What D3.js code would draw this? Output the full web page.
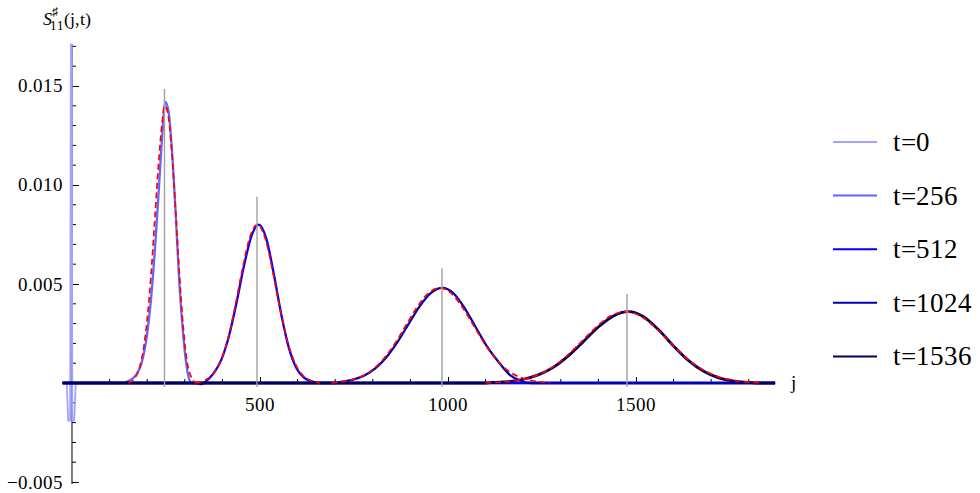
<!DOCTYPE html>
<html>
<head>
<meta charset="utf-8">
<script src="https://cdn.jsdelivr.net/npm/d3@7/dist/d3.min.js"></script>
<style>
  @font-face { font-family: "PlotSerif"; src: local("Liberation Serif"), local("LiberationSerif"), local("Times New Roman"); }
  @font-face { font-family: "PlotSerif"; font-style: italic; src: local("Liberation Serif Italic"), local("LiberationSerif-Italic"); }
</style>
</head>
<body style="margin:0">
<div id="chart"></div>
<script>
// chart size
const width = 980,
      height = 493;

const fontName = "PlotSerif, Liberation Serif, Times New Roman, serif";

// series labels and colours (light -> dark blue)
const seriesLabels = ["t=0", "t=256", "t=512", "t=1024", "t=1536"];
const seriesColors = ["#a3a3ff", "#6464ff", "#0000ff", "#0000b0", "#00005c"];

// measured S(j,t) for each t, [j, value]; the t=0 spike runs off the top of the plot
const s0 = [[-25, 0], [-14, 0], [-10, -0.0019], [-5, -0.0019], [-3, 0.0171], [-1, 0.0171], [1, -0.0019], [6, -0.0019], [10, 0], [1870, 0]];
const s256 = [[-25, 0], [130, 0], [150, 0.0001], [170, 0.0004], [185, 0.0010], [200, 0.0025], [210, 0.0042],
              [220, 0.0066], [230, 0.0095], [240, 0.0125], [248, 0.0142], [256, 0.0138], [265, 0.0120],
              [275, 0.0088], [285, 0.0052], [295, 0.0026], [303, 0.0011], [310, 0.0003], [318, 0], [1870, 0]];
const s512 = [[-25, 0], [330, 0], [345, -0.00006], [357, 0.0001], [377, 0.0005], [397, 0.00117], [417, 0.00234],
              [437, 0.0040], [457, 0.00588], [477, 0.00741], [497, 0.0080], [517, 0.00728], [537, 0.00548],
              [557, 0.00342], [577, 0.00176], [597, 0.00075], [617, 0.00027], [637, 0.00008], [660, 0], [1870, 0]];
const s1024 = [[-25, 0], [700, 0], [715, 0.00006], [745, 0.00016], [775, 0.00035], [805, 0.00071], [835, 0.00127],
               [865, 0.00205], [895, 0.00297], [925, 0.00388], [955, 0.00455], [985, 0.0048], [1015, 0.00452],
               [1045, 0.00376], [1075, 0.00278], [1105, 0.00181], [1135, 0.00105], [1165, 0.0004], [1195, 0.0001],
               [1220, 0], [1870, 0]];
const s1536 = [[-25, 0], [1100, 0], [1120, 0.00003], [1160, 0.000075], [1200, 0.00019], [1240, 0.00041],
               [1280, 0.00079], [1320, 0.00137], [1360, 0.00209], [1400, 0.00283], [1440, 0.00339], [1480, 0.0036],
               [1520, 0.00335], [1560, 0.00269], [1600, 0.00187], [1640, 0.00113], [1680, 0.00059], [1720, 0.00026],
               [1760, 0.0001], [1800, 0.00003], [1820, 0], [1870, 0]];

// gaussian fits (red dashed)
const fit256 = [[150, 0], [165, 0.0002], [180, 0.0008], [190, 0.0017], [200, 0.0032], [210, 0.0054], [220, 0.0082],
                [230, 0.0110], [240, 0.0132], [246, 0.0140], [254, 0.0137], [265, 0.0118], [275, 0.0089],
                [285, 0.0057], [295, 0.0030], [305, 0.0012], [315, 0.0004], [330, 0]];
const fit512 = [[330, 0], [353, 0.00014], [373, 0.0004], [393, 0.001], [413, 0.00211], [433, 0.00378], [453, 0.00573],
                [473, 0.00736], [493, 0.0080], [513, 0.00736], [533, 0.00573], [553, 0.00378], [573, 0.00211],
                [593, 0.001], [613, 0.0004], [633, 0.00014], [660, 0]];
const fit1024 = [[690, 0], [708, 0.00005], [738, 0.00014], [768, 0.00032], [798, 0.00065], [828, 0.0012],
                 [858, 0.00197], [888, 0.00291], [918, 0.00384], [948, 0.00454], [978, 0.0048], [1008, 0.00454],
                 [1038, 0.00384], [1068, 0.00291], [1098, 0.00197], [1128, 0.0012], [1158, 0.00065], [1188, 0.00032],
                 [1218, 0.00014], [1248, 0.00005], [1270, 0]];
const fit1536 = [[1100, 0], [1112, 0.00002], [1152, 0.00006], [1192, 0.00016], [1232, 0.00036], [1272, 0.00073],
                 [1312, 0.0013], [1352, 0.00203], [1392, 0.00279], [1432, 0.00338], [1472, 0.0036], [1512, 0.00338],
                 [1552, 0.00279], [1592, 0.00203], [1632, 0.0013], [1672, 0.00073], [1712, 0.00036], [1752, 0.00016],
                 [1792, 0.00006], [1832, 0.00002]];

// grey markers at the front positions
const markJ = [246, 492, 984, 1476];
const markTop = [0.01485, 0.0094, 0.0058, 0.0045];

// ticks
const xMajor = [500, 1000, 1500];
const xMinor = [100, 200, 300, 400, 600, 700, 800, 900, 1100, 1200, 1300, 1400, 1600, 1700, 1800];
const yMajor = [-0.005, 0.005, 0.010, 0.015];
const yTickLabels = ["\u22120.005", "0.005", "0.010", "0.015"];
const yMinor = [-0.004, -0.003, -0.002, -0.001, 0.001, 0.002, 0.003, 0.004, 0.006, 0.007, 0.008, 0.009,
                0.011, 0.012, 0.013, 0.014, 0.016, 0.017];

const series = [s0, s256, s512, s1024, s1536];
const fits = [fit256, fit512, fit1024, fit1536];

const svg = d3.select("#chart")
  .append("svg")
    .attr("width", width)
    .attr("height", height)
    .attr("font-family", fontName);

// scales
const xScale = d3.scaleLinear()
  .domain([-25, 1870])
  .range([62.6, 775.1]);

const yScale = d3.scaleLinear()
  .domain([-0.0051, 0.0171])
  .range([484, 44.4]);

const x0 = xScale(0), y0 = yScale(0);

// y axis (ticks only, labels added below)
const yAxis = svg.append("g")
  .attr("transform", "translate(" + x0 + ",0)")
  .call(d3.axisRight(yScale).tickValues(yMajor).tickSize(7).tickFormat(""));
yAxis.select(".domain").attr("d", "M0," + yScale(-0.0051) + "V" + yScale(0.0171));
yAxis.selectAll("line.minor")
  .data(yMinor)
  .enter().append("line")
    .attr("class", "minor")
    .attr("x1", 0).attr("x2", 4)
    .attr("y1", d => yScale(d)).attr("y2", d => yScale(d))
    .attr("stroke", "#000");

// x axis
const xAxis = svg.append("g")
  .attr("transform", "translate(0," + y0 + ")")
  .call(d3.axisTop(xScale).tickValues(xMajor).tickSize(6).tickFormat(""));
xAxis.select(".domain").attr("d", "M" + xScale(-25) + ",0H" + xScale(1870));
xAxis.selectAll("line.minor")
  .data(xMinor)
  .enter().append("line")
    .attr("class", "minor")
    .attr("x1", d => xScale(d)).attr("x2", d => xScale(d))
    .attr("y1", 0).attr("y2", -4)
    .attr("stroke", "#000");

// data curves
const line = d3.line()
  .x(d => xScale(d[0]))
  .y(d => yScale(d[1]))
  .curve(d3.curveMonotoneX);

const straight = d3.line()
  .x(d => xScale(d[0]))
  .y(d => yScale(d[1]));

svg.selectAll(".series")
  .data(series)
  .enter().append("path")
    .attr("class", "series")
    .attr("d", (d, i) => i == 0 ? straight(d) : line(d))
    .attr("fill", "none")
    .attr("stroke", (d, i) => seriesColors[i])
    .attr("stroke-width", (d, i) => i == 0 ? 1.8 : (i == 4 ? 2.8 : 2.3))
    .attr("stroke-linejoin", "round");

// fitted gaussians
svg.selectAll(".fit")
  .data(fits)
  .enter().append("path")
    .attr("class", "fit")
    .attr("d", line)
    .attr("fill", "none")
    .attr("stroke", "#ff0000")
    .attr("stroke-width", 1.7)
    .attr("stroke-dasharray", "6,3.5");

// grey vertical markers
svg.selectAll(".mark")
  .data(markJ)
  .enter().append("line")
    .attr("class", "mark")
    .attr("x1", d => xScale(d)).attr("x2", d => xScale(d))
    .attr("y1", yScale(-0.0002))
    .attr("y2", (d, i) => yScale(markTop[i]))
    .attr("stroke", "#a0a0a0")
    .attr("stroke-width", 1.4);

// tick labels
yMajor.forEach(function(v, i) {
  svg.append("text")
    .attr("x", x0 - 9)
    .attr("y", yScale(v) + 6.5)
    .attr("text-anchor", "end")
    .attr("font-family", fontName)
    .attr("font-size", 19)
    .text(yTickLabels[i]);
});

xMajor.forEach(function(v) {
  svg.append("text")
    .attr("x", xScale(v))
    .attr("y", y0 + 28)
    .attr("text-anchor", "middle")
    .attr("font-family", fontName)
    .attr("font-size", 19)
    .text(v);
});

// axis titles
const yTitle = svg.append("text")
  .attr("x", 43)
  .attr("y", 25)
  .attr("font-family", fontName)
  .attr("font-size", 18);
yTitle.append("tspan").attr("font-style", "italic").text("S");
yTitle.append("tspan").attr("dy", -9).attr("font-size", 12).text("\u266F");
yTitle.append("tspan").attr("dx", -8).attr("dy", 14).attr("font-size", 13).text("11");
yTitle.append("tspan").attr("dy", -5).text("(j,t)");

svg.append("text")
  .attr("x", 791)
  .attr("y", y0 + 6)
  .attr("font-family", fontName)
  .attr("font-size", 19)
  .text("j");

// legend
seriesLabels.forEach(function(label, i) {
  const ly = 142 + i * 53.6;
  svg.append("line")
    .attr("x1", 833).attr("x2", 877)
    .attr("y1", ly).attr("y2", ly)
    .attr("stroke", seriesColors[i])
    .attr("stroke-width", 2);
  svg.append("text")
    .attr("x", 893)
    .attr("y", ly + 9)
    .attr("font-family", fontName)
    .attr("font-size", 27)
    .text(label);
});
</script>
</body>
</html>
